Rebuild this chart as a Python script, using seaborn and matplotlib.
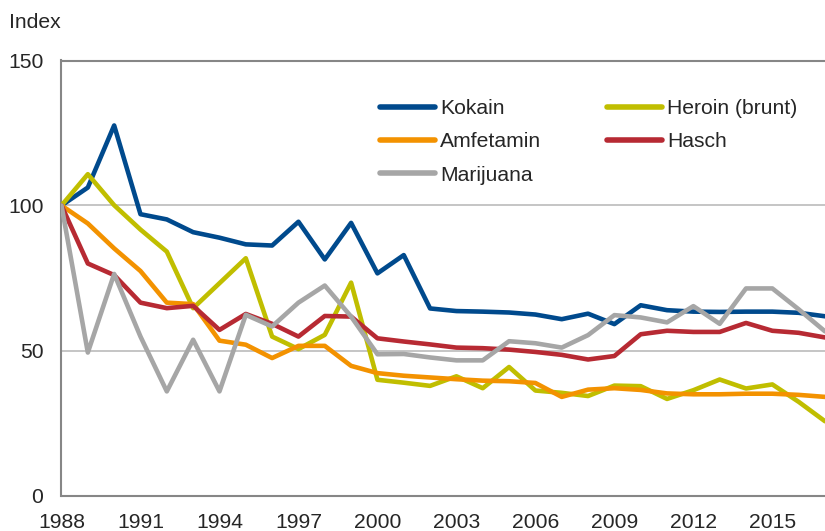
import matplotlib
matplotlib.use("Agg")
import matplotlib.pyplot as plt
import pandas as pd
import seaborn as sns
from matplotlib.lines import Line2D

years = list(range(1988, 2018))
kokain = [100, 106.2, 127.6, 97, 95.2, 90.8, 88.9, 86.6, 86.2, 94.4, 81.4, 94, 76.6, 82.9, 64.5,
          63.6, 63.4, 63.1, 62.4, 60.8, 62.7, 59.1, 65.6, 63.9, 63.4, 63.3, 63.4, 63.4, 63.0, 61.8]
heroin = [100, 110.8, 100.1, 91.7, 84.1, 64.6, 73.2, 81.8, 54.8, 50.5, 55.4, 73.4, 39.9, 38.9, 37.8,
          41.1, 37, 44.3, 36.2, 35.4, 34.3, 37.9, 37.7, 33.3, 36.3, 40, 36.9, 38.3, 32.3, 25.6]
amfetamin = [100, 93.8, 85.2, 77.4, 66.5, 66, 53.4, 52, 47.4, 51.6, 51.6, 44.7, 42.2, 41.3, 40.7,
             40.1, 39.6, 39.4, 38.8, 34, 36.5, 37, 36.4, 35.2, 34.9, 34.9, 35.1, 35.1, 34.7, 34]
hasch = [100, 80, 76, 66.5, 64.6, 65.4, 57.1, 62.6, 59.2, 54.8, 61.9, 61.7, 54.2, 53.1, 52.1,
         51, 50.8, 50.3, 49.5, 48.5, 46.9, 48.1, 55.6, 56.8, 56.4, 56.4, 59.5, 56.8, 56.1, 54.5]
marijuana = [100, 49.3, 76.4, 54.8, 35.9, 53.7, 35.9, 62.3, 58.3, 66.5, 72.4, 61.7, 48.7, 48.8, 47.6,
             46.6, 46.6, 53.2, 52.5, 51, 55.3, 62.2, 61.4, 59.7, 65.3, 59.2, 71.4, 71.4, 64.2, 56.6]

namn = ['Kokain', 'Heroin (brunt)', 'Amfetamin', 'Hasch', 'Marijuana']
farger = ['#004a8d', '#c0be00', '#f39200', '#b72a33', '#a6a6a6']
xticks = list(range(1988, 2017, 3))
yticks = [0, 50, 100, 150]

# long form for seaborn
serier = [kokain, heroin, amfetamin, hasch, marijuana]
df = pd.concat([pd.DataFrame({'År': years, 'Index': s, 'Drog': n}) for n, s in zip(namn, serier)])

sns.set_style('white')
plt.rcParams['font.family'] = ['Liberation Sans', 'DejaVu Sans']
fs = 15.2

fig = plt.figure(figsize=(8.25, 5.31), dpi=100)
ax = fig.add_axes([61.5 / 825, (531 - 495.5) / 531, (825 - 61.5) / 825, (495.5 - 60.5) / 531])

sns.lineplot(data=df, x='År', y='Index', hue='Drog', hue_order=namn, palette=farger,
             linewidth=3.3, ax=ax, legend=False, zorder=3)
for l in ax.lines:
    l.set_solid_joinstyle('round')

ax.set_xlim(1988, 1988 + (825 - 61.5) / 26.67)
ax.set_ylim(0, 150)
ax.set_yticks(yticks)
ax.set_xticks(range(1988, 2018))
ax.set_xticklabels([str(y) if y in xticks else '' for y in range(1988, 2018)])
ax.tick_params(axis='x', length=5, width=1.3, color='#868686', pad=7.5, labelsize=fs, direction='out')
ax.tick_params(axis='y', length=0, pad=13, labelsize=fs)
ax.set_xlabel('')
ax.set_ylabel('')
ax.grid(axis='y', color='#c0c0c0', linewidth=1.3)
ax.grid(axis='x', visible=False)
for side in ['left', 'bottom', 'top']:
    ax.spines[side].set_color('#868686')
    ax.spines[side].set_linewidth(1.5)
ax.spines['right'].set_visible(False)

fig.text(9 / 825, 1 - 23 / 531, 'Index', fontsize=fs, va='center', ha='left')

# legend: 2 columns, row-wise like the original
ordning = [0, 2, 4, 1, 3]
handtag = [Line2D([], [], color=farger[i], linewidth=4, solid_capstyle='round') for i in ordning]
ax.legend(handtag, [namn[i] for i in ordning], ncol=2, loc='upper left',
          bbox_to_anchor=(380 / 825, 1 - 99 / 531), bbox_transform=fig.transFigure,
          frameon=False, fontsize=fs, handlelength=2.6, handletextpad=0.25,
          columnspacing=3.1, labelspacing=0.68, borderpad=0, borderaxespad=0)

fig.savefig('out.png', dpi=100)
